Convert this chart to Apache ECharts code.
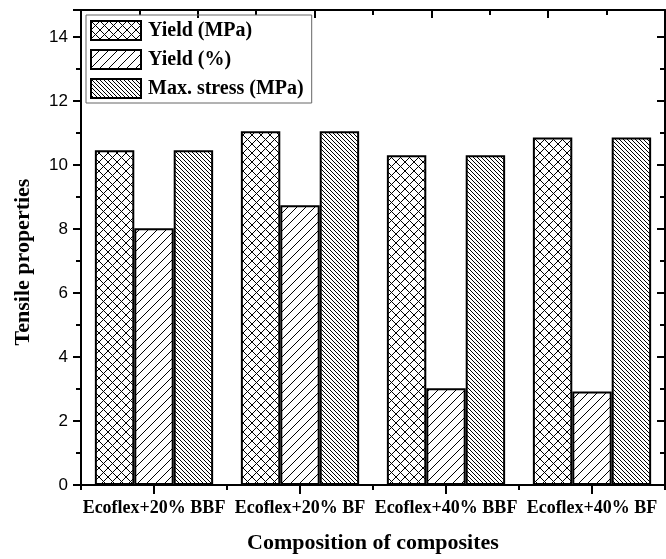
<!DOCTYPE html>
<html><head><meta charset="utf-8">
<script src="https://cdn.jsdelivr.net/npm/echarts@6/dist/echarts.min.js"></script>
<style>html,body{margin:0;padding:0;background:#fff}#c{width:666px;height:559px}</style>
</head><body><div id="c"></div>
<script>
const categories = ['Ecoflex+20% BBF', 'Ecoflex+20% BF', 'Ecoflex+40% BBF', 'Ecoflex+40% BF'];
const seriesNames = ['Yield (MPa)', 'Yield (%)', 'Max. stress (MPa)'];
const yieldMPa = [10.46, 11.05, 10.3, 10.86];
const yieldPct = [8.02, 8.74, 3.02, 2.92];
const maxStress = [10.46, 11.05, 10.3, 10.86];
const yTicks = [0, 2, 4, 6, 8, 10, 12, 14];
const yMax = 14.84;

function makePattern(kind) {
  const c = document.createElement('canvas');
  let s = kind === 'back' ? 4 : 9;
  c.width = s; c.height = s;
  const g = c.getContext('2d');
  g.fillStyle = '#fff'; g.fillRect(0, 0, s, s);
  g.strokeStyle = '#000'; g.lineWidth = 1;
  function ln(x1, y1, x2, y2) { g.beginPath(); g.moveTo(x1, y1); g.lineTo(x2, y2); g.stroke(); }
  if (kind === 'cross') {
    ln(-1, -1, s + 1, s + 1); ln(s + 1, -1, -1, s + 1);
  } else if (kind === 'slash') {
    ln(-1, s + 1, s + 1, -1); ln(-1, 1, 1, -1); ln(s - 1, s + 1, s + 1, s - 1);
  } else {
    ln(-1, -1, s + 1, s + 1); ln(s - 1, -1, s + 1, 1); ln(-1, s - 1, 1, s + 1);
  }
  return { image: c, repeat: 'repeat' };
}
const patterns = [makePattern('cross'), makePattern('slash'), makePattern('back')];
const values = [yieldMPa, yieldPct, maxStress];

const serif = 'Liberation Serif';
const chart = echarts.init(document.getElementById('c'));
const lineS = { color: '#000', width: 2 };
const baseX = {
  type: 'category', data: categories, boundaryGap: true,
  axisLine: { show: true, lineStyle: lineS },
  axisLabel: { show: false }, splitLine: { show: false }
};
chart.setOption({
  animation: false,
  grid: { left: 81, right: 1, top: 10, bottom: 73 },
  legend: {
    show: true, orient: 'vertical', left: 86, top: 15,
    data: seriesNames,
    itemWidth: 50, itemHeight: 19, itemGap: 8,
    icon: 'rect',
    borderColor: '#666', borderWidth: 1, padding: [5, 8, 4, 4],
    textStyle: { fontFamily: serif, fontWeight: 'bold', fontSize: 20, lineHeight: 20, color: '#000', padding: [0, 0, 0, 2] }
  },
  graphic: [{
    type: 'text', x: 23, y: 262, rotation: Math.PI / 2,
    style: { text: 'Tensile properties', font: 'bold 22px "Liberation Serif"', fill: '#000', align: 'center', verticalAlign: 'middle', textAlign: 'center', textVerticalAlign: 'middle' }
  }],
  xAxis: [
    Object.assign({}, baseX, {
      position: 'bottom',
      axisLabel: { show: true, fontFamily: serif, fontWeight: 'bold', fontSize: 18, color: '#000', margin: 14, interval: 0 },
      axisTick: { show: true, alignWithLabel: true, inside: false, length: 9, lineStyle: lineS },
      name: 'Composition of composites', nameLocation: 'middle', nameGap: 47,
      nameTextStyle: { fontFamily: serif, fontWeight: 'bold', fontSize: 22, color: '#000' }
    }),
    Object.assign({}, baseX, {
      position: 'bottom',
      axisTick: { show: true, alignWithLabel: false, inside: false, length: 5, lineStyle: lineS }
    }),
    {
      type: 'value', position: 'top', min: 0, max: 5, interval: 1,
      axisLine: { show: true, lineStyle: lineS },
      axisTick: { show: true, inside: true, length: 8, lineStyle: lineS },
      minorTick: { show: true, splitNumber: 2, length: 5, lineStyle: lineS },
      axisLabel: { show: false }, splitLine: { show: false }
    }
  ],
  yAxis: [
    {
      type: 'value', min: 0, max: yMax, interval: 2, position: 'left',
      axisLine: { show: true, lineStyle: lineS },
      axisTick: { show: true, inside: false, length: 8, lineStyle: lineS },
      minorTick: { show: true, splitNumber: 2, length: 5, lineStyle: lineS },
      splitLine: { show: false },
      axisLabel: {
        fontFamily: 'Liberation Sans', fontSize: 17, color: '#000', margin: 13,
        formatter: v => (yTicks.indexOf(v) >= 0 ? String(v) : '')
      }
    },
    {
      type: 'value', min: 0, max: yMax, interval: 2, position: 'right',
      axisLine: { show: true, lineStyle: lineS },
      axisTick: { show: true, inside: true, length: 8, lineStyle: lineS },
      minorTick: { show: true, splitNumber: 2, length: 5, lineStyle: lineS },
      splitLine: { show: false }, axisLabel: { show: false }
    }
  ],
  series: seriesNames.map((n, i) => ({
    name: n, type: 'bar', xAxisIndex: 0, yAxisIndex: 0,
    data: values[i],
    barGap: '0%', barCategoryGap: '19%',
    itemStyle: { color: patterns[i], borderColor: '#000', borderWidth: 2 }
  }))
});
</script></body></html>
